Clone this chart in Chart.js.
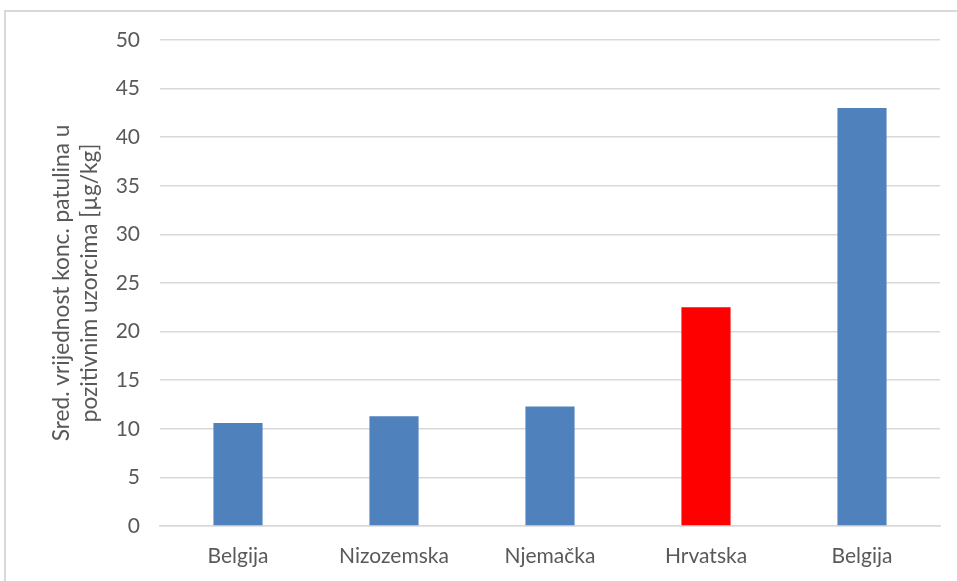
<!DOCTYPE html>
<html>
<head>
<meta charset="utf-8">
<script src="https://cdn.jsdelivr.net/npm/chart.js@4/dist/chart.umd.min.js"></script>
<style>
  html, body { margin: 0; padding: 0; background: #fff; }
  #wrap { position: relative; width: 957px; height: 581px; overflow: hidden; }
  /* light frame round the chart, it runs off the right and bottom edges */
  #frame { position: absolute; left: 4px; top: 10px; width: 1000px; height: 700px;
           border: 2px solid #d9d9d9; box-sizing: border-box; }
  #myChart { position: absolute; left: 0; top: 0; }
</style>
</head>
<body>
<div id="wrap">
  <div id="frame"></div>
  <canvas id="myChart" width="957" height="581"></canvas>
</div>
<script>
// countries and mean patulin values (µg/kg)
const countries = ['Belgija', 'Nizozemska', 'Njemačka', 'Hrvatska', 'Belgija'];
const patulin = [10.6, 11.3, 12.3, 22.5, 43.0];
const barColors = ['#4f81bd', '#4f81bd', '#4f81bd', '#ff0000', '#4f81bd'];
const yTitle = ['Sred. vrijednost konc. patulina u', 'pozitivnim uzorcima [µg/kg]'];

const textColor = '#595959';
const gridColor = '#d9d9d9';
const fontFamily = 'Lato, "Open Sans", sans-serif';

const ctx = document.getElementById('myChart').getContext('2d');

const myChart = new Chart(ctx, {
  type: 'bar',
  data: {
    labels: countries,
    datasets: [{
      data: patulin,
      backgroundColor: barColors,
      borderWidth: 0,
      barPercentage: 0.315,
      categoryPercentage: 1
    }]
  },
  options: {
    responsive: false,
    animation: false,
    layout: { padding: { top: 40, right: 17, left: 0, bottom: 0 } },
    plugins: {
      legend: { display: false },
      tooltip: { enabled: false }
    },
    scales: {
      x: {
        grid: { display: false, drawTicks: false },
        border: { display: true, color: gridColor, width: 1.5 },
        ticks: {
          color: textColor,
          padding: 18,
          font: { family: fontFamily, size: 21 }
        },
        afterFit: (scale) => { scale.height = 55; }
      },
      y: {
        min: 0,
        max: 50,
        ticks: {
          stepSize: 5,
          color: textColor,
          padding: 20,
          font: { family: fontFamily, size: 21 }
        },
        grid: { color: gridColor, lineWidth: 1.5, drawTicks: false },
        border: { display: false },
        title: {
          display: true,
          text: yTitle,
          color: textColor,
          padding: { top: 47, bottom: 0 },
          font: { family: fontFamily, size: 22.7, lineHeight: 1.25 }
        },
        afterFit: (scale) => { scale.width = 160; }
      }
    }
  }
});
</script>
</body>
</html>
